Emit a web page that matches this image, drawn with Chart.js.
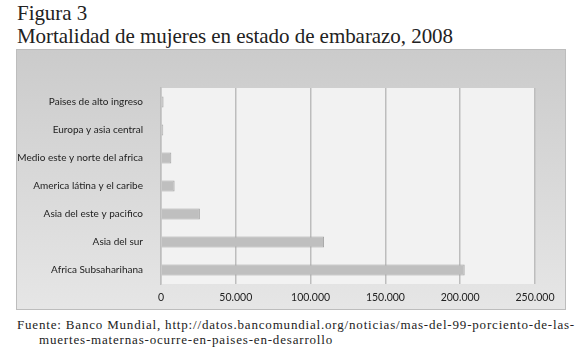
<!DOCTYPE html>
<html><head><meta charset="utf-8">
<script src="https://cdn.jsdelivr.net/npm/chart.js@4/dist/chart.umd.min.js"></script>
<style>
html,body{margin:0;padding:0;background:#fff;width:580px;height:352px;overflow:hidden;}
.t{position:absolute;font-family:"Liberation Serif","DejaVu Serif",serif;color:#222;white-space:nowrap;line-height:1;}
#t1{left:17px;top:2.5px;font-size:21px;}
#t2{left:17px;top:25.7px;font-size:21px;}
#panel{position:absolute;left:16px;top:49px;width:550px;height:261px;}
#s1{left:17px;top:317.5px;font-size:13px;}
#s2{left:39px;top:332.5px;font-size:13px;}
</style></head><body>
<div class="t" id="t1">Figura 3</div>
<div class="t" id="t2">Mortalidad de mujeres en estado de embarazo, 2008</div>
<div id="panel"><canvas id="c" width="550" height="261"></canvas></div>
<div class="t" id="s1">Fuente: Banco Mundial, http://datos.bancomundial.org/noticias/mas-del-99-porciento-de-las-</div>
<div class="t" id="s2">muertes-maternas-ocurre-en-paises-en-desarrollo</div>
<script>
const categories = ["Paises de alto ingreso","Europa y asia central","Medio este y norte del africa","America látina y el caribe","Asia del este y pacifico","Asia del sur","Africa Subsaharihana"];
const deaths = [1700, 1500, 6900, 9100, 26000, 109000, 203000];
const xTicks = [0, 50000, 100000, 150000, 200000, 250000];

// fit text widths to the reference
(function(){
  const m = document.createElement('canvas').getContext('2d');
  function fit(id, size, target){
    const el = document.getElementById(id);
    m.font = size + 'px "Liberation Serif"';
    const w = m.measureText(el.textContent).width;
    return (target - w) / el.textContent.length;
  }
  const ls = fit('s1', 13, 558);
  document.getElementById('s1').style.letterSpacing = ls + 'px';
  document.getElementById('s2').style.letterSpacing = ls + 'px';
  const lt = fit('t2', 21, 436);
  document.getElementById('t2').style.letterSpacing = lt + 'px';
  document.getElementById('t1').style.letterSpacing = lt + 'px';
})();

const bgPlugin = {
  id:'bg',
  beforeDraw(chart){
    const {ctx, width, height, chartArea:a} = chart;
    ctx.save();
    const g = ctx.createLinearGradient(0,0,0,height);
    g.addColorStop(0,'#cbcbcb'); g.addColorStop(1,'#e6e6e6');
    ctx.fillStyle = g; ctx.fillRect(0,0,width,height);
    ctx.strokeStyle = '#bdbdbd'; ctx.lineWidth = 1;
    ctx.strokeRect(0.5,0.5,width-1,height-1);
    ctx.fillStyle = '#f2f2f2';
    ctx.fillRect(a.left,a.top,a.right-a.left,a.bottom-a.top);
    ctx.restore();
  }
};

new Chart(document.getElementById('c'), {
  type:'bar',
  data:{labels:categories, datasets:[{data:deaths, backgroundColor:'#bfbfbf', borderColor:'#a5a5a5', borderWidth:1, barPercentage:0.8, categoryPercentage:0.5}]},
  options:{
    indexAxis:'y', responsive:false, animation:false,
    layout:{padding:{top:39,right:31,bottom:0,left:0}},
    plugins:{legend:{display:false}, tooltip:{enabled:false}},
    scales:{
      x:{min:0,max:250000,
        afterBuildTicks(s){ s.ticks = xTicks.map(v=>({value:v})); },
        afterFit(s){ s.height = 26; },
        grid:{color:'#bdbdbd', lineWidth:1.5, drawTicks:false},
        border:{display:false},
        ticks:{padding:7, color:'#222', font:{family:'Lato', size:10.5},
          callback:(v)=>v.toLocaleString('de-DE')}
      },
      y:{
        afterFit(s){ s.width = 145; },
        grid:{display:false},
        border:{display:true,color:'#bdbdbd',width:1.5},
        ticks:{padding:10, color:'#222', font:{family:'Lato', size:10}}
      }
    }
  },
  plugins:[bgPlugin]
});
</script>
</body></html>
